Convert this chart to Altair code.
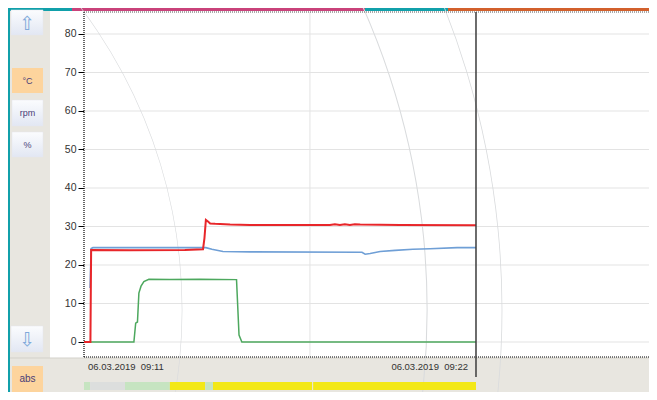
import altair as alt
import pandas as pd

# ---------------- data (minutes after 06.03.2019 09:11) ----------------
red_t = [0, 0.18, 0.20, 1.29, 2.83, 3.34, 3.38, 3.42, 3.48, 3.54, 3.68, 4.10, 4.66,
         6.90, 7.04, 7.18, 7.32, 7.46, 7.60, 7.75, 8.87, 11.0]
red_v = [0, 0, 23.9, 23.8, 23.9, 24.1, 27.0, 31.7, 31.3, 30.8, 30.7, 30.5, 30.4,
         30.4, 30.6, 30.4, 30.6, 30.4, 30.6, 30.5, 30.4, 30.3]

blue_t = [0.17, 0.20, 0.25, 1.86, 3.42, 3.59, 3.90, 4.66, 7.80, 7.89, 8.03, 8.31,
          8.73, 9.23, 9.71, 10.47, 11.0]
blue_v = [14.0, 24.3, 24.5, 24.5, 24.5, 24.1, 23.5, 23.4, 23.3, 22.8, 23.0, 23.5,
          23.8, 24.1, 24.2, 24.5, 24.5]

green_t = [0.18, 1.40, 1.45, 1.50, 1.54, 1.60, 1.68, 1.82, 2.41, 3.25, 4.28, 4.35, 4.43, 11.0]
green_v = [0, 0, 4.9, 5.2, 12.7, 14.5, 15.7, 16.3, 16.2, 16.3, 16.2, 1.8, 0, 0]

y_ticks = [0, 10, 20, 30, 40, 50, 60, 70, 80]
v_grid = [6.34]
cursor_t = [11.0]
time_labels = ["06.03.2019\u00a0\u00a009:11", "06.03.2019\u00a0\u00a009:22"]
time_label_t = [0.0, 11.0]

seg_start = [0.0, 0.17, 1.15, 2.41, 3.40, 3.62, 6.43]
seg_end = [0.17, 1.15, 2.41, 3.40, 3.62, 6.40, 11.0]
seg_state = ["green", "gray", "green", "yellow", "green", "yellow", "yellow"]

button_labels = ["⇧", "°C", "rpm", "%", "⇩", "abs"]

# ---------------- helpers ----------------
W, H = 641, 384
OFF = 8  # page margin
xscale = alt.Scale(domain=[-2.133, 15.855], nice=False, zero=False)
yscale = alt.Scale(domain=[-12.99, 86.75], nice=False, zero=False)
yaxis = alt.Axis(values=y_ticks, offset=-76, domain=False, grid=False, title=None,
                 tickColor="#000000", tickSize=6, tickWidth=1, labelPadding=2,
                 labelFont="Liberation Sans", labelFontSize=10.5, labelColor="#333333")
one = pd.DataFrame({"k": [0]})


def box(x1, y1, x2, y2, **kw):
    return alt.Chart(one).mark_rect(**kw).encode(
        x=alt.value(x1 - OFF), x2=alt.value(x2 - OFF),
        y=alt.value(y1 - OFF), y2=alt.value(y2 - OFF))


def hrule(x1, x2, y, **kw):
    return alt.Chart(one).mark_rule(**kw).encode(
        x=alt.value(x1 - OFF), x2=alt.value(x2 - OFF), y=alt.value(y - OFF))


def vrule(x, y1, y2, **kw):
    return alt.Chart(one).mark_rule(**kw).encode(
        x=alt.value(x - OFF), y=alt.value(y1 - OFF), y2=alt.value(y2 - OFF))


def label(txt, x, y, **kw):
    return alt.Chart(one).mark_text(text=txt, **kw).encode(
        x=alt.value(x - OFF), y=alt.value(y - OFF))


PANEL = "#e8e6e0"
TEAL = "#11a0aa"
light_grad = alt.Gradient(gradient="linear", x1=0, y1=0, x2=0, y2=1,
                          stops=[alt.GradientStop(color="#fbfcfe", offset=0),
                                 alt.GradientStop(color="#e2e7f3", offset=1)])

layers = []
# left panel and strips
layers.append(box(8, 8, 50, 358, fill=PANEL))
layers.append(box(8, 8, 10, 400, fill=TEAL))
layers.append(box(10, 8, 72, 11, fill=TEAL))
layers.append(box(72, 8, 365, 11, fill="#c9427a"))
layers.append(box(365, 8, 448, 11, fill=TEAL))
layers.append(box(448, 8, 657, 11, fill="#d2602c"))

# horizontal grid
grid_df = pd.DataFrame({"v": y_ticks})
layers.append(alt.Chart(grid_df).mark_rule(color="#e3e3e3", strokeWidth=1).encode(
    y=alt.Y("v:Q", scale=yscale, axis=yaxis),
    x=alt.value(84 - OFF), x2=alt.value(W)))
# vertical grid
layers.append(alt.Chart(pd.DataFrame({"t": v_grid})).mark_rule(color="#e3e3e3").encode(
    x=alt.X("t:Q", scale=xscale, axis=None),
    y=alt.value(12 - OFF), y2=alt.value(357 - OFF)))

# bottom panel
layers.append(box(10, 358, 657, 400, fill=PANEL))
layers.append(hrule(10, 657, 358, color="#d3d1ca", strokeWidth=1))

# decorative rings
for r in [502, 747, 822]:
    layers.append(alt.Chart(one).mark_arc(radius=r + 0.4, radius2=r - 0.4, theta=0,
                                          theta2=6.2832, color="#d9dbdd").encode(
        x=alt.value(-320 - OFF), y=alt.value(310 - OFF)))

# state bar
seg_df = pd.DataFrame({"s": seg_start, "e": seg_end, "state": seg_state})
layers.append(alt.Chart(seg_df).mark_rect().encode(
    x=alt.X("s:Q", scale=xscale, axis=None), x2="e:Q",
    y=alt.value(382 - OFF), y2=alt.value(390 - OFF),
    color=alt.Color("state:N", legend=None,
                    scale=alt.Scale(domain=["green", "gray", "yellow"],
                                    range=["#c6e4c1", "#dcdedd", "#f3e817"]))))

# dotted borders
layers.append(vrule(84, 12, 357, color="#000000", strokeDash=[1, 1], strokeWidth=1.2))
layers.append(hrule(84, 657, 357, color="#000000", strokeDash=[1, 1], strokeWidth=1.2))
layers.append(hrule(84, 657, 12, color="#555555", strokeDash=[1, 1], strokeWidth=1))

# series
for t, v, col, sw in [(green_t, green_v, "#4da85e", 1.5),
                      (blue_t, blue_v, "#6f9fd6", 1.6),
                      (red_t, red_v, "#e8262a", 2)]:
    df = pd.DataFrame({"t": t, "v": v})
    layers.append(alt.Chart(df).mark_line(color=col, strokeWidth=sw, interpolate="linear").encode(
        x=alt.X("t:Q", scale=xscale, axis=None),
        y=alt.Y("v:Q", scale=yscale, axis=yaxis)))

# cursor
layers.append(alt.Chart(pd.DataFrame({"t": cursor_t})).mark_rule(color="#3c3c3c", strokeWidth=1.5).encode(
    x=alt.X("t:Q", scale=xscale, axis=None),
    y=alt.value(12 - OFF), y2=alt.value(377 - OFF)))

# time labels
tl = pd.DataFrame({"t": time_label_t, "lab": time_labels})
layers.append(alt.Chart(tl.iloc[[0]]).mark_text(align="left", baseline="middle", dx=4,
                                                font="Liberation Sans", fontSize=9.5, color="#333333").encode(
    x=alt.X("t:Q", scale=xscale, axis=None), y=alt.value(367 - OFF), text="lab:N"))
layers.append(alt.Chart(tl.iloc[[1]]).mark_text(align="right", baseline="middle", dx=-8,
                                                font="Liberation Sans", fontSize=9.5, color="#333333").encode(
    x=alt.X("t:Q", scale=xscale, axis=None), y=alt.value(367 - OFF), text="lab:N"))

# buttons
buttons = [(11, 10, 43, 35, "light"), (12, 68, 43, 93, "orange"), (12, 100, 43, 126, "light"),
           (12, 132, 43, 157, "light"), (11, 326, 43, 352, "light"), (12, 366, 43, 392, "orange")]
for (x1, y1, x2, y2, kind), txt in zip(buttons, button_labels):
    if kind == "orange":
        layers.append(box(x1, y1, x2, y2, fill="#fdd49d"))
    else:
        layers.append(box(x1, y1, x2, y2, fill=light_grad, stroke="#e4e7ef", strokeWidth=0.5))
    cx, cy = (x1 + x2) / 2, (y1 + y2) / 2
    if txt in ("⇧", "⇩"):
        layers.append(label(txt, cx, cy + 1, font="DejaVu Sans", fontSize=19, color="#7fa9da",
                            align="center", baseline="middle"))
    else:
        layers.append(label(txt, cx, cy, font="Liberation Sans", fontSize=9 if txt != "abs" else 10,
                            color="#4a3d78", align="center", baseline="middle"))

chart = alt.layer(*layers).properties(
    width=W, height=H, padding=0, autosize=alt.AutoSizeParams(type="none"),
    background="#ffffff"
).configure_view(stroke=None)

chart.save("out.html", embed_options={"renderer": "svg", "actions": False})
